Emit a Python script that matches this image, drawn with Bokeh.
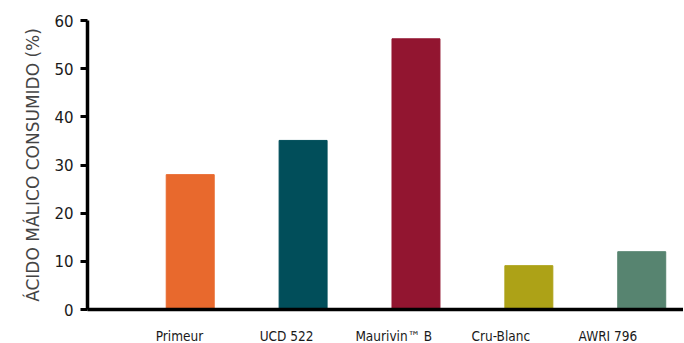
from bokeh.plotting import figure
from bokeh.models import Range1d, FixedTicker, ColumnDataSource
from bokeh.embed import file_html
from bokeh.resources import INLINE

categories = ["Primeur", "UCD 522", "Maurivin\u2122 B", "Cru-Blanc", "AWRI 796"]
values = [28, 35.1, 56.2, 9.1, 12]
colors = ["#E8692D", "#014E5A", "#921530", "#ADA217", "#578470"]
y_ticks = [0, 10, 20, 30, 40, 50, 60]

xs = list(range(1, len(categories) + 1))
src = ColumnDataSource(dict(x=xs, top=values, color=colors))

# default x range positions the category labels (slightly tighter spacing than the bars,
# as in the original); the bars use their own range
p = figure(frame_width=596, frame_height=289, output_backend="svg", toolbar_location=None,
           x_range=Range1d(0.141, 5.706), y_range=Range1d(0, 60),
           min_border_left=87, min_border_right=0, min_border_top=20, min_border_bottom=0)
p.extra_x_ranges = {"bars": Range1d(0.09, 5.37)}
p.vbar(x="x", top="top", width=0.425, color="color", source=src, x_range_name="bars")

p.outline_line_color = None
p.xgrid.visible = False
p.ygrid.visible = False

p.yaxis.ticker = FixedTicker(ticks=y_ticks)
p.yaxis.axis_line_width = 3.5
p.yaxis.major_tick_line_width = 3
p.yaxis.major_tick_out = 7
p.yaxis.major_tick_in = 0
p.yaxis.minor_tick_out = 0
p.yaxis.minor_tick_in = 0
p.yaxis.major_label_standoff = 7
p.yaxis.major_label_text_font = "DejaVu Sans"
p.yaxis.major_label_text_font_size = "15px"
p.yaxis.major_label_text_color = "#1a1a1a"
p.yaxis.axis_label = "ÁCIDO MÁLICO CONSUMIDO (%)"
p.yaxis.axis_label_text_font = "DejaVu Sans"
p.yaxis.axis_label_text_font_size = "17px"
p.yaxis.axis_label_text_font_style = "normal"
p.yaxis.axis_label_text_color = "#444444"
p.yaxis.axis_label_standoff = 8

p.xaxis.ticker = FixedTicker(ticks=xs)
p.xaxis.major_label_overrides = {x: c for x, c in zip(xs, categories)}
p.xaxis.axis_line_width = 3.5
p.xaxis.major_tick_out = 0
p.xaxis.major_tick_in = 0
p.xaxis.minor_tick_out = 0
p.xaxis.minor_tick_in = 0
p.xaxis.major_label_standoff = 18
p.xaxis.major_label_text_font = "DejaVu Sans Condensed"
p.xaxis.major_label_text_font_size = "13.5px"
p.xaxis.major_label_text_color = "#1a1a1a"

open("out.html", "w").write(file_html(p, INLINE))
